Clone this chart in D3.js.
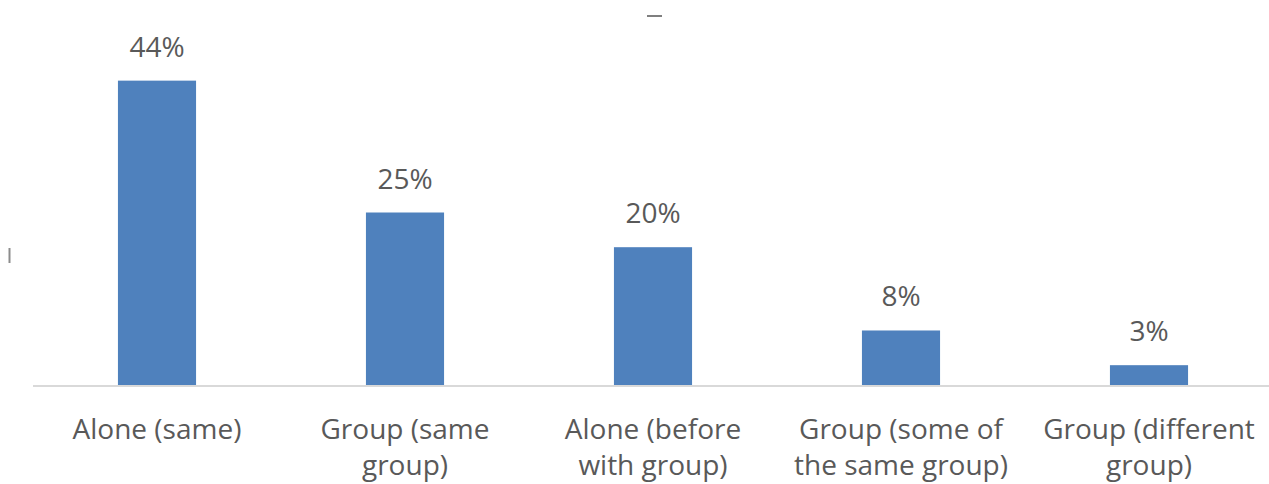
<!DOCTYPE html>
<html>
<head>
    <title>Bar chart</title>
    <script src="https://d3js.org/d3.v7.min.js"></script>
    <style>
        body {
            margin: 0;
            background-color: #ffffff;
            font-family: "Open Sans", Arial, sans-serif;
        }
        #chart {
            width: 1269px;
            height: 484px;
        }
        .bar {
            fill: #4f81bd;
        }
        .value-label, .cat-label {
            fill: #595959;
            font-size: 28px;
            text-anchor: middle;
        }
        .baseline {
            stroke: #d9d9d9;
            stroke-width: 2px;
        }
    </style>
</head>
<body>
    <div id="chart"></div>
    <script>
        // Chart data
        const categories = [
            "Alone (same)",
            "Group (same\ngroup)",
            "Alone (before\nwith group)",
            "Group (some of\nthe same group)",
            "Group (different\ngroup)"
        ];
        const values = [44, 25, 20, 8, 3];
        const yDomain = [0, 50];

        const width = 1269;
        const height = 484;
        const baseY = 386;

        const svg = d3.select("#chart")
            .append("svg")
            .attr("width", width)
            .attr("height", height);

        const x = d3.scaleBand()
            .domain(categories)
            .range([33, 1273])
            .paddingInner(0.685)
            .paddingOuter(0.3425);

        const y = d3.scaleLinear()
            .domain(yDomain)
            .range([baseY, 39]);

        // Bars
        svg.append("g")
            .selectAll("rect")
            .data(values)
            .enter()
            .append("rect")
            .attr("class", "bar")
            .attr("x", (d, i) => x(categories[i]))
            .attr("y", d => y(d))
            .attr("width", x.bandwidth())
            .attr("height", d => baseY - y(d));

        // Category axis line
        svg.append("line")
            .attr("class", "baseline")
            .attr("x1", x.range()[0])
            .attr("x2", x.range()[1])
            .attr("y1", baseY)
            .attr("y2", baseY);

        // Value labels
        svg.append("g")
            .selectAll("text")
            .data(values)
            .enter()
            .append("text")
            .attr("class", "value-label")
            .attr("x", (d, i) => x(categories[i]) + x.bandwidth() / 2)
            .attr("y", d => y(d) - 24)
            .text(d => d + "%");

        // Category labels, split on the line breaks
        const catText = svg.append("g")
            .selectAll("text")
            .data(categories)
            .enter()
            .append("text")
            .attr("class", "cat-label")
            .attr("x", d => x(d) + x.bandwidth() / 2)
            .attr("y", baseY + 53);

        catText.each(function(d) {
            const t = d3.select(this);
            d.split("\n").forEach((line, k) => {
                t.append("tspan")
                    .attr("x", x(d) + x.bandwidth() / 2)
                    .attr("dy", k === 0 ? 0 : 36)
                    .text(line);
            });
        });

        // leftover bits of the cropped title and axis title
        svg.append("line")
            .attr("x1", 647).attr("x2", 662)
            .attr("y1", 16).attr("y2", 16)
            .attr("stroke", "#7f7f7f").attr("stroke-width", 2);
        svg.append("line")
            .attr("x1", 9.5).attr("x2", 9.5)
            .attr("y1", 248).attr("y2", 263)
            .attr("stroke", "#8c8c8c").attr("stroke-width", 2);
    </script>
</body>
</html>
